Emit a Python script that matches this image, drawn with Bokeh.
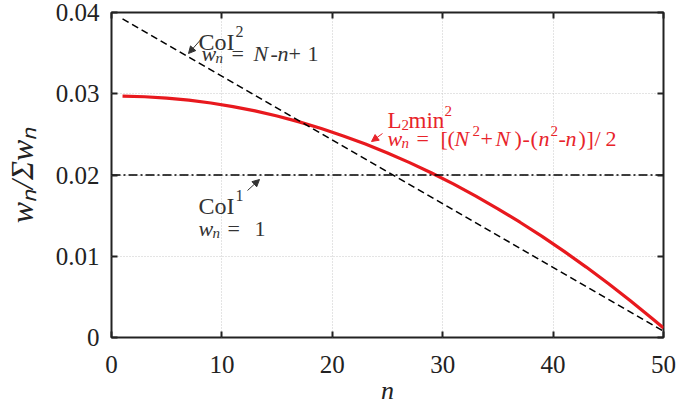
from bokeh.plotting import figure
from bokeh.models import Range1d, LinearAxis, Label, Arrow, NormalHead, FixedTicker
from bokeh.embed import file_html
from bokeh.resources import INLINE

# ---------------- data ----------------
n_l2min2 = [1, 3, 5, 7, 9, 11, 13, 15, 17, 19, 21, 23, 25, 27, 29, 31, 33, 35,
            37, 39, 41, 43, 45, 47, 49, 50]
w_l2min2 = [0.029703, 0.029633, 0.029470, 0.029214, 0.028864, 0.028422, 0.027886,
            0.027257, 0.026535, 0.025719, 0.024811, 0.023809, 0.022714, 0.021526,
            0.020245, 0.018870, 0.017402, 0.015842, 0.014188, 0.012440, 0.010600,
            0.008666, 0.006640, 0.004520, 0.002306, 0.001165]
n_coi2 = [1, 50]
w_coi2 = [0.039216, 0.000784]
n_coi1 = [0, 50]
w_coi1 = [0.02, 0.02]

x_ticks = [0, 10, 20, 30, 40, 50]
y_ticks = [0, 0.01, 0.02, 0.03, 0.04]
y_tick_labels = ["0", "0.01", "0.02", "0.03", "0.04"]
x_title = "n"
y_title = "w\u2099/\u03a3w\u2099"

# ---------------- layout ----------------
W, H = 695, 405
L, R, T, B = 111, 663, 12, 337
X0, X1, Y0, Y1 = 0, 50, 0, 0.04
SERIF = "Liberation Serif"
INK = "#222222"
GRAY = "#333333"
RED = "#e8232a"


def dx(px):
    return X0 + (px - L) / (R - L) * (X1 - X0)


def dy(py):
    return Y0 + (B - py) / (B - T) * (Y1 - Y0)


p = figure(width=W, height=H, frame_width=R - L, frame_height=B - T,
           x_range=Range1d(X0, X1), y_range=Range1d(Y0, Y1),
           output_backend="svg", toolbar_location=None,
           min_border_left=L, min_border_right=W - R,
           min_border_top=T, min_border_bottom=H - B)
p.background_fill_color = "white"
p.border_fill_color = "white"
p.outline_line_color = INK
p.outline_line_width = 2

for ax in (p.xaxis[0], p.yaxis[0]):
    ax.axis_line_color = None
    ax.major_tick_in = 6
    ax.major_tick_out = 0
    ax.minor_tick_line_color = None
    ax.major_tick_line_color = INK
    ax.major_tick_line_width = 2
    ax.major_label_text_font = SERIF
    ax.major_label_text_font_size = "25px"
    ax.major_label_text_color = INK
    ax.axis_label_text_font = SERIF
    ax.axis_label_text_font_style = "italic"
    ax.axis_label_text_color = INK

p.xaxis.ticker = FixedTicker(ticks=x_ticks)
p.yaxis.ticker = FixedTicker(ticks=y_ticks)
p.xaxis.major_label_standoff = 18
p.yaxis.major_label_standoff = 12
p.yaxis.major_label_overrides = {v: s for v, s in zip(y_ticks, y_tick_labels)}
p.xaxis.axis_label = x_title
p.xaxis.axis_label_text_font_size = "26px"
p.xaxis.axis_label_standoff = 0
p.yaxis.axis_label = y_title
p.yaxis.axis_label_text_font_size = "32px"
p.yaxis.axis_label_standoff = 13

for side, ticks in (("above", x_ticks), ("right", y_ticks)):
    ax = LinearAxis(ticker=FixedTicker(ticks=ticks))
    ax.axis_line_color = None
    ax.major_tick_in = 6
    ax.major_tick_out = 0
    ax.minor_tick_line_color = None
    ax.major_tick_line_color = INK
    ax.major_tick_line_width = 2
    ax.major_label_text_font_size = "1px"
    ax.major_label_text_color = None
    ax.major_label_standoff = 0
    p.add_layout(ax, side)

p.xgrid.ticker = FixedTicker(ticks=x_ticks[1:-1])
p.ygrid.ticker = FixedTicker(ticks=y_ticks[1:-1])
for g in (p.xgrid[0], p.ygrid[0]):
    g.grid_line_color = "#c8c8c8"
    g.grid_line_dash = "1 2"
    g.grid_line_width = 1

# ---------------- series ----------------
p.line(n_l2min2, w_l2min2, line_color="#e8191e", line_width=3.2)
p.line(n_coi2, w_coi2, line_color="black", line_width=1.6, line_dash="7 4")
p.line(n_coi1, w_coi1, line_color="black", line_width=1.6, line_dash="9 3 2 3")

# ---------------- annotations ----------------
def put(text, px, py, size, italic=False, color=GRAY):
    p.add_layout(Label(x=dx(px), y=dy(py), text=text,
                       text_font=SERIF, text_font_size=f"{size}px",
                       text_font_style="italic" if italic else "normal",
                       text_color=color, text_align="left",
                       text_baseline="alphabetic"))


coi2_runs = [("CoI", 198, 41, 24, False), ("2", 235, 31, 16, False),
             ("w", 201, 53, 22, True), ("n", 215, 57, 15, True),
             ("=", 231, 53, 22, False), ("N", 253, 53, 22, True),
             ("-", 270, 53, 22, False), ("n", 277, 53, 22, True),
             ("+", 288, 53, 22, False), ("1", 307, 53, 22, False)]
coi1_runs = [("CoI", 198, 205, 24, False), ("1", 235, 195, 16, False),
             ("w", 198, 228, 22, True), ("n", 212, 232, 15, True),
             ("=", 227, 228, 22, False), ("1", 254, 228, 22, False)]
l2_runs = [("L", 387, 120, 23, False), ("2", 401, 124, 15, False),
           ("min", 408, 120, 23, False), ("2", 444, 110, 15, False),
           ("w", 387, 138, 22, True), ("n", 401, 142, 15, True),
           ("=", 416, 138, 22, False), ("[", 440, 138, 22, False),
           ("(", 447, 138, 22, False), ("N", 454, 138, 22, True),
           ("2", 472, 130, 15, False), ("+", 480, 138, 22, False),
           ("N", 495, 138, 22, True), (")", 514, 138, 22, False),
           ("-", 522, 138, 22, False), ("(", 530, 138, 22, False),
           ("n", 538, 138, 22, True), ("2", 550, 130, 15, False),
           ("-", 558, 138, 22, False), ("n", 565, 138, 22, True),
           (")", 578, 138, 22, False), ("]", 586, 138, 22, False),
           ("/", 594, 138, 22, False), ("2", 605, 138, 22, False)]

for runs, col in ((coi2_runs, GRAY), (coi1_runs, GRAY), (l2_runs, RED)):
    for t, px, py, s, it in runs:
        put(t, px, py, s, it, col)

for (x0, y0, x1, y1), col in (((203, 36, 188, 53), GRAY),
                              ((247, 190, 259, 179), GRAY),
                              ((382, 133, 371, 141), RED)):
    p.add_layout(Arrow(x_start=dx(x0), y_start=dy(y0), x_end=dx(x1), y_end=dy(y1),
                       line_color=col, line_width=1,
                       end=NormalHead(size=7, fill_color=col, line_color=col)))

open("out.html", "w").write(file_html(p, INLINE))
